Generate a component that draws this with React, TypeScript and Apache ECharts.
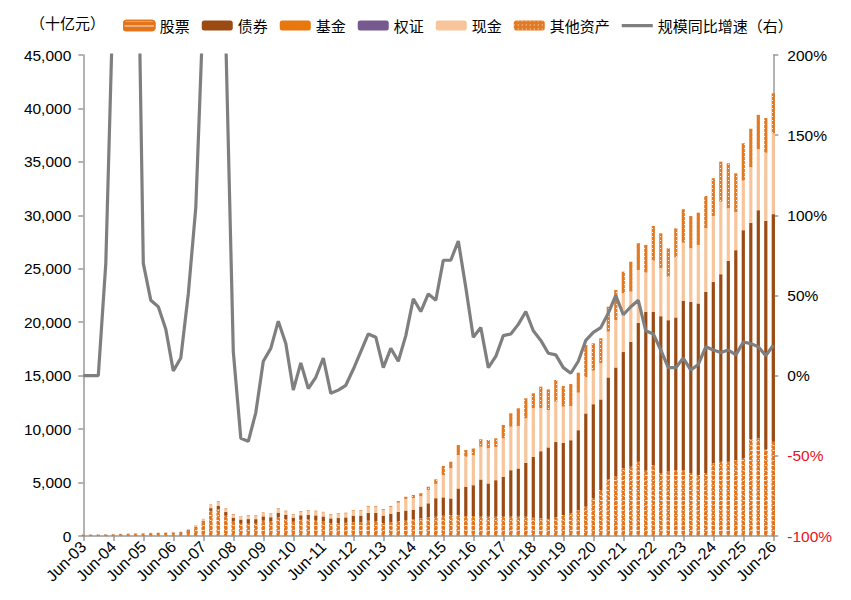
import React, { useEffect, useRef } from "react";
import * as echarts from "echarts";

const categories = [
  "Jun-03","Sep-03","Dec-03",
  "Mar-04","Jun-04","Sep-04","Dec-04",
  "Mar-05","Jun-05","Sep-05","Dec-05",
  "Mar-06","Jun-06","Sep-06","Dec-06",
  "Mar-07","Jun-07","Sep-07","Dec-07",
  "Mar-08","Jun-08","Sep-08","Dec-08",
  "Mar-09","Jun-09","Sep-09","Dec-09",
  "Mar-10","Jun-10","Sep-10","Dec-10",
  "Mar-11","Jun-11","Sep-11","Dec-11",
  "Mar-12","Jun-12","Sep-12","Dec-12",
  "Mar-13","Jun-13","Sep-13","Dec-13",
  "Mar-14","Jun-14","Sep-14","Dec-14",
  "Mar-15","Jun-15","Sep-15","Dec-15",
  "Mar-16","Jun-16","Sep-16","Dec-16",
  "Mar-17","Jun-17","Sep-17","Dec-17",
  "Mar-18","Jun-18","Sep-18","Dec-18",
  "Mar-19","Jun-19","Sep-19","Dec-19",
  "Mar-20","Jun-20","Sep-20","Dec-20",
  "Mar-21","Jun-21","Sep-21","Dec-21",
  "Mar-22","Jun-22","Sep-22","Dec-22",
  "Mar-23","Jun-23","Sep-23","Dec-23",
  "Mar-24","Jun-24","Sep-24","Dec-24",
  "Mar-25","Jun-25","Sep-25","Dec-25",
  "Mar-26","Jun-26",
];

// 十亿元
const stock = [
  110,120,125,140,150,165,180,195,210,230,245,260,285,320,500,780,1250,2350,2500,1900,
  1350,1150,1150,1150,1450,1380,1750,1580,1330,1520,1550,1480,1350,1180,1200,1230,1300,1280,1450,1400,1200,1300,1400,1450,
  1550,1650,1750,1810,1900,1960,1960,1870,1870,1810,1810,1810,1810,
  1810,1810,1810,1700,1650,1600,1750,1965,2120,2430,2740,3525,4300,5300,5550,6330,6480,6950,6110,6640,5870,6020,6175,6175,5870,5710,5870,6800,6950,6950,7110,7270,9050,9140,8110,8820,
];
const bond = [
  15,15,18,20,20,22,25,27,30,35,38,40,42,45,60,80,130,250,320,340,
  350,380,430,420,380,370,420,400,380,410,420,440,470,460,480,500,600,620,700,760,700,780,850,920,
  900,1100,1300,1720,1700,1540,2470,2720,2870,3460,3090,3400,3710,
  4335,4490,5020,5690,6270,6670,7040,6735,6830,7460,8710,8795,8460,9520,10200,10880,11670,12980,14850,14320,14680,14160,14255,15815,16020,16030,16960,16960,17530,18780,19620,21330,20230,21330,21360,21280,
];
const fund = [
  0,0,0,0,0,0,0,0,0,0,0,0,0,0,5,10,20,20,20,20,
  20,20,20,20,20,20,20,20,20,20,20,20,20,20,20,20,20,20,20,20,20,20,20,20,
  20,20,20,20,30,30,30,30,30,30,30,30,30,
  30,30,30,30,30,30,30,30,30,30,30,30,30,30,30,30,30,30,30,30,30,30,30,30,30,30,30,30,30,30,30,30,30,30,30,30,
];
const warrant = [
  0,0,0,0,0,0,0,0,0,0,0,0,0,0,0,0,0,0,0,0,
  0,0,0,0,0,0,0,0,0,0,0,0,0,0,0,0,0,0,0,0,0,0,0,0,
  0,0,0,0,0,0,0,0,0,0,0,0,0,
  0,0,0,0,0,0,0,0,0,0,0,0,0,0,0,0,0,0,0,0,0,0,0,0,0,0,0,0,0,0,0,0,0,0,0,0,
];
const cash = [
  20,20,22,25,25,28,30,33,35,40,42,45,48,50,75,110,170,280,350,290,
  280,270,310,310,320,300,340,310,280,330,350,370,360,340,360,370,450,450,570,560,530,630,850,1080,
  1070,930,1240,1320,2080,2800,3120,2800,2800,3050,3270,3090,3590,
  4055,3960,4150,4530,4000,3490,3750,3370,3180,3490,3370,3120,3370,4270,4430,5470,4680,4930,3650,4770,4470,4050,5610,5420,5000,5460,5930,6150,6770,4890,3540,4620,5190,5680,6360,7550,
];
const other = [
  5,5,5,5,5,5,5,5,5,5,5,5,5,5,10,20,30,50,60,50,
  60,50,55,50,50,50,60,60,50,60,60,60,60,60,60,60,60,60,70,70,75,80,150,200,
  300,300,300,430,840,620,930,630,630,700,780,810,1250,
  1250,1660,1870,1400,2020,1930,2030,1930,2060,1870,3020,2560,2340,2330,2810,2020,2800,2500,2590,3240,3270,2660,2720,3130,3020,3020,3020,3530,3740,4220,3630,3490,3600,3220,3240,3740,
];
// 规模同比增速（%）
const growth = [
  0,0,0,70,240,300,320,360,70,47,43,29,3,11,51,105,230,400,350,210,
  15,-39,-41,-23,9,17,34,20,-9,8,-8,-1,11,-11,-9,-6,4,15,26,24,5,17,9,25,
  48,40,51,47,72,72,84,55,24,30,5,12,25,
  26,32,40,28,22,14,13,5,1.5,9,22,27,30,39,50,38,43,47,28,26,16,5,5,11,3.5,7,18,16,14.5,16,13,21,20,18,12.5,19,
];

const leftTicks = { min: 0, max: 45000, interval: 5000 };
const rightTicks = { min: -100, max: 200, interval: 50 };

const FONT = "'Liberation Sans', 'Noto Sans CJK SC', sans-serif";
const CJK = "'Noto Sans CJK SC', sans-serif";
const AXIS_COLOR = "#9a9a9a";
const LINE_ICON =
  "path://M0,0 L0.01,0 L0.01,0.01 Z M0,3.4 L31,3.4 L31,6.8 L0,6.8 Z M30.99,10 L31,10 L31,9.99 Z";

export default function App() {
  const ref = useRef<HTMLDivElement>(null);
  useEffect(() => {
    const chart = echarts.init(ref.current!, null, { renderer: "svg" });
    const barBase = {
      type: "bar",
      stack: "total",
      barWidth: 3.2,
      xAxisIndex: 0,
      yAxisIndex: 0,
    };
    const option: any = {
      animation: false,
      backgroundColor: "#ffffff",
      textStyle: { fontFamily: FONT },
      graphic: [
        {
          type: "text",
          left: 30,
          top: 15,
          style: { text: "（十亿元）", font: "15px 'Noto Sans CJK SC', sans-serif", fill: "#000" },
        },
      ],
      legend: {
        left: 118,
        top: 13,
        itemWidth: 31,
        itemHeight: 10,
        itemGap: 12,
        textStyle: { fontSize: 15, color: "#000", fontFamily: CJK },
        data: [
          { name: "股票", itemStyle: { borderWidth: 1.5 } },
          "债券",
          "基金",
          "权证",
          "现金",
          "其他资产",
          { name: "规模同比增速（右）", icon: LINE_ICON, itemStyle: { color: "#7F7F7F", borderWidth: 0 } },
        ],
      },
      grid: { left: 83.3, right: 77.7, top: 55, bottom: 64, containLabel: false },
      xAxis: [
        {
          type: "category",
          data: categories,
          boundaryGap: false,
          axisLine: { lineStyle: { color: AXIS_COLOR, width: 1.5 } },
          axisTick: { show: true, interval: 3, length: 5, lineStyle: { color: AXIS_COLOR, width: 1.5 } },
          axisLabel: {
            interval: 3,
            rotate: 45,
            margin: 8,
            fontSize: 16,
            color: "#000",
            fontFamily: FONT,
          },
          splitLine: { show: false },
        },
      ],
      yAxis: [
        {
          type: "value",
          ...leftTicks,
          position: "left",
          axisLine: { show: true, lineStyle: { color: AXIS_COLOR, width: 1.5 } },
          axisTick: { show: true, length: 5, lineStyle: { color: AXIS_COLOR, width: 1.5 } },
          axisLabel: {
            fontSize: 15.5,
            color: "#000",
            margin: 12,
            fontFamily: FONT,
            formatter: (v: number) => v.toLocaleString("en-US"),
          },
          splitLine: { show: false },
        },
        {
          type: "value",
          ...rightTicks,
          position: "right",
          axisLine: { show: true, lineStyle: { color: AXIS_COLOR, width: 1.5 } },
          axisTick: { show: true, length: 5, lineStyle: { color: AXIS_COLOR, width: 1.5 } },
          axisLabel: {
            fontSize: 15.5,
            margin: 14,
            fontFamily: FONT,
            formatter: (v: number) => v + "%",
            color: (v: any) => (Number(v) < 0 ? "#E8131F" : "#000"),
          },
          splitLine: { show: false },
        },
      ],
      series: [
        {
          ...barBase,
          name: "股票",
          data: stock,
          itemStyle: {
            color: "#E3741C",
            borderColor: "#E3741C",
            borderWidth: 0.9,
            borderType: [3, 1.2],
            decal: {
              symbol: "rect",
              symbolSize: 1,
              color: "rgba(255,255,255,0.85)",
              dashArrayX: [1, 0],
              dashArrayY: [1, 3.2],
            },
          },
        },
        { ...barBase, name: "债券", data: bond, itemStyle: { color: "#9B4A12" } },
        { ...barBase, name: "基金", data: fund, itemStyle: { color: "#E8770E" } },
        { ...barBase, name: "权证", data: warrant, itemStyle: { color: "#76598F" } },
        { ...barBase, name: "现金", data: cash, itemStyle: { color: "#F8C59B" } },
        {
          ...barBase,
          name: "其他资产",
          data: other,
          itemStyle: {
            color: "#E27A24",
            decal: {
              symbol: "rect",
              symbolSize: 1,
              color: "rgba(255,255,255,0.85)",
              dashArrayX: [1, 2.2],
              dashArrayY: [1, 2.2],
            },
          },
        },
        {
          name: "规模同比增速（右）",
          type: "line",
          xAxisIndex: 0,
          yAxisIndex: 1,
          data: growth,
          symbol: "none",
          clip: true,
          lineStyle: { color: "#7F7F7F", width: 3.2 },
          itemStyle: { color: "#7F7F7F" },
          z: 5,
        },
      ],
    };
    chart.setOption(option);
    return () => chart.dispose();
  }, []);
  return (
    <div
      ref={ref}
      style={{ position: "fixed", left: 0, top: 0, width: 851, height: 600, background: "#fff" }}
    />
  );
}
